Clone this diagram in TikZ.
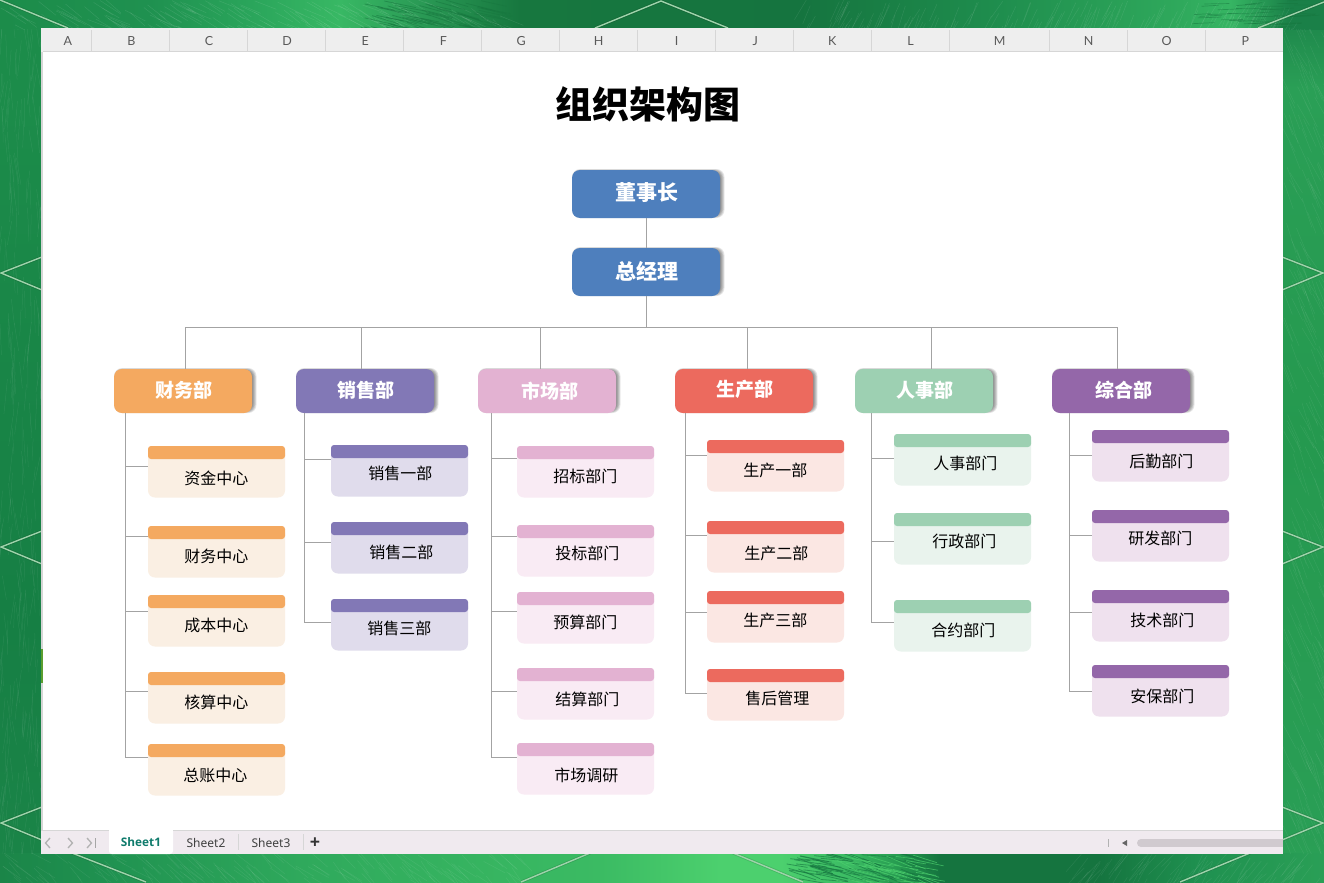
\documentclass[tikz,border=0pt]{standalone}
\usepackage{fontspec}
\newfontfamily\cjk{Noto Sans CJK SC}
\newfontfamily\uifont{Noto Sans}
\newfontfamily\tabfont{Open Sans}
\newfontfamily\hdfont{Lato}
\definecolor{gA}{HTML}{1B8548}\definecolor{gB}{HTML}{1F9150}\definecolor{gC}{HTML}{2AA55B}
\definecolor{gD}{HTML}{38B864}\definecolor{gE}{HTML}{2A9A55}\definecolor{gF}{HTML}{17773F}
\definecolor{gG}{HTML}{15743F}\definecolor{gH}{HTML}{1F8E4E}\definecolor{gI}{HTML}{2FA95C}
\definecolor{gJ}{HTML}{36B563}\definecolor{gK}{HTML}{1A8048}\definecolor{gL}{HTML}{3BBB63}
\definecolor{gM}{HTML}{4CD06E}\definecolor{gN}{HTML}{2A9F56}\definecolor{gO}{HTML}{25994F}
\definecolor{gQ}{HTML}{167F44}\definecolor{gR}{HTML}{1C8C4A}
\definecolor{chev}{HTML}{9FD3AB}
\definecolor{cOra}{HTML}{F4A960}\definecolor{lOra}{HTML}{FAEFE3}
\definecolor{cPur}{HTML}{8278B6}\definecolor{lPur}{HTML}{E0DCEC}
\definecolor{cPin}{HTML}{E3B2D2}\definecolor{lPin}{HTML}{F9EBF4}
\definecolor{cRed}{HTML}{EC6A5E}\definecolor{lRed}{HTML}{FBE7E3}
\definecolor{cGrn}{HTML}{9DD0B2}\definecolor{lGrn}{HTML}{E9F3ED}
\definecolor{cVio}{HTML}{9467A9}\definecolor{lVio}{HTML}{EFE1EE}
\definecolor{cBlu}{HTML}{4E7FBD}
\definecolor{hdr}{HTML}{EEEEEE}\definecolor{hdrline}{HTML}{D6D6D6}
\definecolor{foot}{HTML}{F0EAEF}\definecolor{scroll}{HTML}{D0CACF}
\definecolor{conn}{HTML}{A3A3A3}\definecolor{teal}{HTML}{0F7B6C}
\definecolor{artifact}{HTML}{5A9E2E}
\pgfdeclarehorizontalshading{topbg}{100bp}{color(0bp)=(gR);color(25bp)=(gR);color(30.66bp)=(gB);color(34.44bp)=(gC);color(37.84bp)=(gD);color(40.86bp)=(gE);color(44.64bp)=(gF);color(55.2bp)=(gG);color(62.76bp)=(gH);color(69.56bp)=(gI);color(71.45bp)=(gJ);color(73.7bp)=(gK);color(75bp)=(gK);color(100bp)=(gK)}
\pgfdeclarehorizontalshading{botbg}{100bp}{color(0bp)=(gA);color(25bp)=(gA);color(28.8bp)=(gB);color(36.3bp)=(gI);color(47.7bp)=(gL);color(52.2bp)=(gM);color(54.5bp)=(gM);color(57.1bp)=(gL);color(59bp)=(gO);color(60.5bp)=(gG);color(66.5bp)=(gG);color(70.3bp)=(gB);color(75bp)=(gN);color(100bp)=(gN)}
\pgfdeclareverticalshading{leftbg}{100bp}{color(0bp)=(gA);color(25bp)=(gA);color(40bp)=(gQ);color(69bp)=(gR);color(75bp)=(gR);color(100bp)=(gR)}
\pgfdeclareverticalshading{rightbg}{100bp}{color(0bp)=(gN);color(25bp)=(gN);color(50bp)=(gO);color(70bp)=(gN);color(75bp)=(gK);color(100bp)=(gK)}
\tikzset{
  every node/.style={inner sep=0pt,outer sep=0pt},
  cjktext/.style={font=\cjk\fontsize{16bp}{20bp}\selectfont,text=black},
  depttext/.style={font=\cjk\bfseries\fontsize{19bp}{23bp}\selectfont,text=white},
  toptext/.style={font=\cjk\bfseries\fontsize{21bp}{25bp}\selectfont,text=white},
  coltext/.style={font=\hdfont\fontsize{12.5bp}{15bp}\selectfont,text=black!65},
  tabtext/.style={font=\uifont\fontsize{12bp}{15bp}\selectfont,text=black!75},
  chevline/.style={draw=chev,line width=1.4bp,preaction={draw=black,draw opacity=.12,line width=3bp}},
  connline/.style={draw=conn,line width=0.8bp},
  bandbox/.style={rectangle,rounded corners=3bp,minimum width=137bp,minimum height=13bp},
  bodybox/.style={rectangle,rounded corners=7bp,minimum width=137bp,minimum height=51.5bp},
}
\newcommand{\bigbox}[9]{%
  % id, left, top, width, height, colour, text x, text y, text (style from \bigstyle)
  \foreach \gr in {5,4,3,2,1,0}{
    \fill[black,opacity=.085,rounded corners=8bp] (#2+2-\gr*.4,#3+1-\gr*.4) rectangle (#2+#4+1+\gr*.7,#3+#5-2+\gr*.4);
  }
  \node[rectangle,rounded corners=8bp,fill=#6,minimum width=#4 bp,minimum height=#5 bp] (#1) at (#2+#4/2,#3+#5/2) {};
  \node[\bigstyle] (#1-t) at (#7,#8) {#9};
}
\newcommand{\deptkids}[5]{%
  % spine name, left x, band colour, body colour, list: id/top/branch y/text x/text y/text
  \foreach \id/\tp/\br/\tx/\ty/\txt in {#5}{
    \node[bodybox,fill=#4] (\id) at (#2+68.5,\tp+25.75) {};
    \node[bandbox,fill=#3] (\id-b) at (#2+68.5,\tp+6.5) {};
    \node[cjktext] (\id-t) at (\tx+.4,\ty) {\txt};
    \coordinate (\id-in) at (#2,\br);
    \draw[connline] (#1) |- (\id-in);
  }
}
\begin{document}
\begin{tikzpicture}[x=1bp,y=-1bp]
\useasboundingbox (0,0) rectangle (1324,882);
% background
\shade[shading=leftbg] (0,0) rectangle (42,882);
\shade[shading=rightbg] (1282,0) rectangle (1324,882);
\shade[shading=topbg] (0,0) rectangle (1324,29);
\shade[shading=botbg] (0,853) rectangle (1324,882);
\pgfmathsetseed{4217}
\begin{scope}
\clip (0,0) rectangle (1324,29);
\foreach \i in {1,...,170}{
  \pgfmathsetmacro{\xa}{rnd*520}\pgfmathsetmacro{\ya}{rnd*29}
  \draw[white,opacity=.10,line width=.5bp] (\xa,\ya) -- ++(14+rnd*12,8+rnd*6);
}
\foreach \i in {1,...,60}{
  \pgfmathsetmacro{\xa}{360+rnd*130}\pgfmathsetmacro{\ya}{rnd*29}
  \draw[gF,opacity=.55,line width=.8bp] (\xa,\ya) -- ++(22+rnd*12,5+rnd*4);
}
\foreach \i in {1,...,170}{
  \pgfmathsetmacro{\xa}{800+rnd*500}\pgfmathsetmacro{\ya}{rnd*29}
  \draw[white,opacity=.09,line width=.5bp] (\xa,\ya) -- ++(-7-rnd*5,16+rnd*8);
}
\foreach \i in {1,...,40}{
  \pgfmathsetmacro{\xa}{1190+rnd*110}\pgfmathsetmacro{\ya}{rnd*29}
  \draw[gF,opacity=.5,line width=.7bp] (\xa,\ya) -- ++(16+rnd*10,-2+rnd*3);
}
\end{scope}
\begin{scope}
\clip (0,853) rectangle (1324,882);
\foreach \i in {1,...,140}{
  \pgfmathsetmacro{\xa}{rnd*520}\pgfmathsetmacro{\ya}{850+rnd*30}
  \draw[white,opacity=.08,line width=.5bp] (\xa,\ya) -- ++(10+rnd*12,10+rnd*8);
}
\foreach \i in {1,...,70}{
  \pgfmathsetmacro{\xa}{785+rnd*130}\pgfmathsetmacro{\ya}{852+rnd*30}
  \draw[gG,opacity=.6,line width=.8bp] (\xa,\ya) -- ++(20+rnd*14,2+rnd*10);
}
\foreach \i in {1,...,45}{
  \pgfmathsetmacro{\xa}{830+rnd*90}\pgfmathsetmacro{\ya}{852+rnd*30}
  \draw[gM,opacity=.7,line width=.7bp] (\xa,\ya) -- ++(18+rnd*14,2+rnd*10);
}
\foreach \i in {1,...,80}{
  \pgfmathsetmacro{\xa}{1080+rnd*240}\pgfmathsetmacro{\ya}{850+rnd*30}
  \draw[white,opacity=.08,line width=.5bp] (\xa,\ya) -- ++(-10-rnd*8,14+rnd*8);
}
\end{scope}
\begin{scope}
\clip (0,29) rectangle (42,853);
\foreach \i in {1,...,260}{
  \pgfmathsetmacro{\xa}{rnd*42}\pgfmathsetmacro{\ya}{rnd*882}
  \draw[white,opacity=.07,line width=.5bp] (\xa,\ya) -- ++(5-rnd*10,22+rnd*14);
}
\end{scope}
\begin{scope}
\clip (1282,29) rectangle (1324,853);
\foreach \i in {1,...,260}{
  \pgfmathsetmacro{\xa}{1282+rnd*42}\pgfmathsetmacro{\ya}{rnd*882}
  \draw[white,opacity=.07,line width=.5bp] (\xa,\ya) -- ++(8+rnd*6,20+rnd*10);
}
\end{scope}
% chevrons
\draw[chevline] (595,28) -- (661,1) -- (728,28);
\draw[chevline] (0,0) -- (68,28);
\draw[chevline] (1324,2) -- (1258,28);
\draw[chevline] (72,853) -- (146,882);
\draw[chevline] (590,853) -- (521,882);
\draw[chevline] (733,853) -- (803,882);
\draw[chevline] (1250,853) -- (1180,882);
\foreach \cy in {273,547,823}{
  \draw[chevline] (42,\cy-16) -- (1,\cy) -- (42,\cy+17);
  \draw[chevline] (1282,\cy-16) -- (1323,\cy) -- (1282,\cy+17);
}
% sheet
\fill[white] (41,28) rectangle (1283,854);
\fill[hdr] (41,28) rectangle (1283,52);
\draw[hdrline,line width=.8bp] (43,51.7) -- (1283,51.7);
\fill[hdrline] (41,52) rectangle (43,830);
\fill[artifact] (41,649) rectangle (43,683);
\foreach \cx in {91,169,247,325,403,481,559,637,715,793,871,949,1049,1127,1205}{
  \draw[hdrline,line width=.7bp] (\cx,30) -- (\cx,51);
}
\foreach \lab/\cx in {A/67.8,B/131.3,C/209,D/287,E/365.3,F/443.3,G/521.3,H/598.7,I/676.5,J/755.3,K/832.3,L/910.5,M/999.7,N/1088.7,O/1166.7,P/1245.3}{
  \node[coltext] (col\lab) at (\cx,41.5) {\lab};
}
% footer
\fill[foot] (41,830) rectangle (1283,854);
\draw[hdrline,line width=.9bp] (41,830.5) -- (1283,830.5);
\fill[white,rounded corners=3bp] (109,828) -- (109,854) -- (173,854) -- (173,828) -- cycle;
\fill[white] (109,830) rectangle (173,840);
\node[font=\tabfont\bfseries\fontsize{11.8bp}{15bp}\selectfont,text=teal] (tab1) at (141,842.5) {Sheet1};
\node[tabtext] (tab2) at (206,842.5) {Sheet2};
\node[tabtext] (tab3) at (271,842.5) {Sheet3};
\draw[hdrline,line width=.7bp] (238.5,834) -- (238.5,850) (303.5,834) -- (303.5,850);
\node[font=\tabfont\bfseries\fontsize{18bp}{20bp}\selectfont,text=black!80] (tabplus) at (315,843.5) {+};
\draw[black!30,line width=1.3bp] (50,838) -- (45.5,843) -- (50,848);
\draw[black!30,line width=1.3bp] (68,838) -- (72.5,843) -- (68,848);
\draw[black!30,line width=1.3bp] (87,838) -- (91.5,843) -- (87,848);
\draw[black!35,line width=1.3bp] (95.5,838) -- (95.5,848);
\draw[black!30,line width=1bp] (1108.5,839) -- (1108.5,847);
\fill[black!60] (1122,843) -- (1127,840) -- (1127,846) -- cycle;
\fill[scroll] (1141,839) rectangle (1283,847);
\fill[scroll] (1141,843) circle (4bp);
% title
\node[font=\cjk\bfseries\fontsize{37bp}{42bp}\selectfont,text=black] (title) at (648,104) {组织架构图};
% top boxes
\def\bigstyle{toptext}
\bigbox{chair}{572}{170}{148}{48}{cBlu}{647}{193}{董事长}
\bigbox{gm}{572}{248}{148}{48}{cBlu}{647}{271}{总经理}
% departments
\def\bigstyle{depttext}
\bigbox{fin}{114}{369}{138}{44}{cOra}{183.8}{390}{财务部}
\bigbox{sal}{296}{369}{138}{44}{cPur}{365.8}{390}{销售部}
\bigbox{mkt}{478}{369}{138}{44}{cPin}{549.8}{391}{市场部}
\bigbox{pro}{675}{369}{138}{44}{cRed}{744.8}{389}{生产部}
\bigbox{hr}{855}{369}{138}{44}{cGrn}{924.8}{390}{人事部}
\bigbox{gen}{1052}{369}{138}{44}{cVio}{1123.8}{390}{综合部}
% upper connectors
\draw[connline] (chair.south) -- (gm.north);
\coordinate (bus) at (646,327);
\coordinate (finD) at (185,369);
\coordinate (salD) at (361,369);
\coordinate (mktD) at (540,369);
\coordinate (proD) at (747,369);
\coordinate (hrD) at (931,369);
\coordinate (genD) at (1117,369);
\foreach \dd in {finD,salD,mktD,proD,hrD,genD}{
  \draw[connline] (gm.south) -- (bus) -| (\dd);
}
% spines
\coordinate (finS) at (125.5,413);
\coordinate (salS) at (304.5,413);
\coordinate (mktS) at (491.5,413);
\coordinate (proS) at (685.5,413);
\coordinate (hrS) at (871.5,413);
\coordinate (genS) at (1069.5,413);
\deptkids{finS}{148}{cOra}{lOra}{f1/446/466.5/216/478/资金中心,f2/526/536.5/216/556/财务中心,f3/595/611.5/216/625/成本中心,f4/672/691.5/216/702/核算中心,f5/744/757.5/215/775/总账中心}
\deptkids{salS}{331}{cPur}{lPur}{s1/445/459.5/400/473/销售一部,s2/522/542.5/401/552/销售二部,s3/599/622.5/399/628/销售三部}
\deptkids{mktS}{517}{cPin}{lPin}{m1/446/458.5/585/476/招标部门,m2/525/536.5/587/553/投标部门,m3/592/611.5/585/622/预算部门,m4/668/691.5/587/699/结算部门,m5/743/757.5/586/775/市场调研}
\deptkids{proS}{707}{cRed}{lRed}{p1/440/455.5/775/470/生产一部,p2/521/535.5/776/553/生产二部,p3/591/612.5/775/620/生产三部,p4/669/693.5/777/698/售后管理}
\deptkids{hrS}{894}{cGrn}{lGrn}{h1/434/458.5/965/463/人事部门,h2/513/541.5/964/541/行政部门,h3/600/622.5/963/630/合约部门}
\deptkids{genS}{1092}{cVio}{lVio}{g1/430/455.5/1161/461/后勤部门,g2/510/535.5/1160/538/研发部门,g3/590/612.5/1162/620/技术部门,g4/665/691.5/1162/696/安保部门}
\end{tikzpicture}
\end{document}
